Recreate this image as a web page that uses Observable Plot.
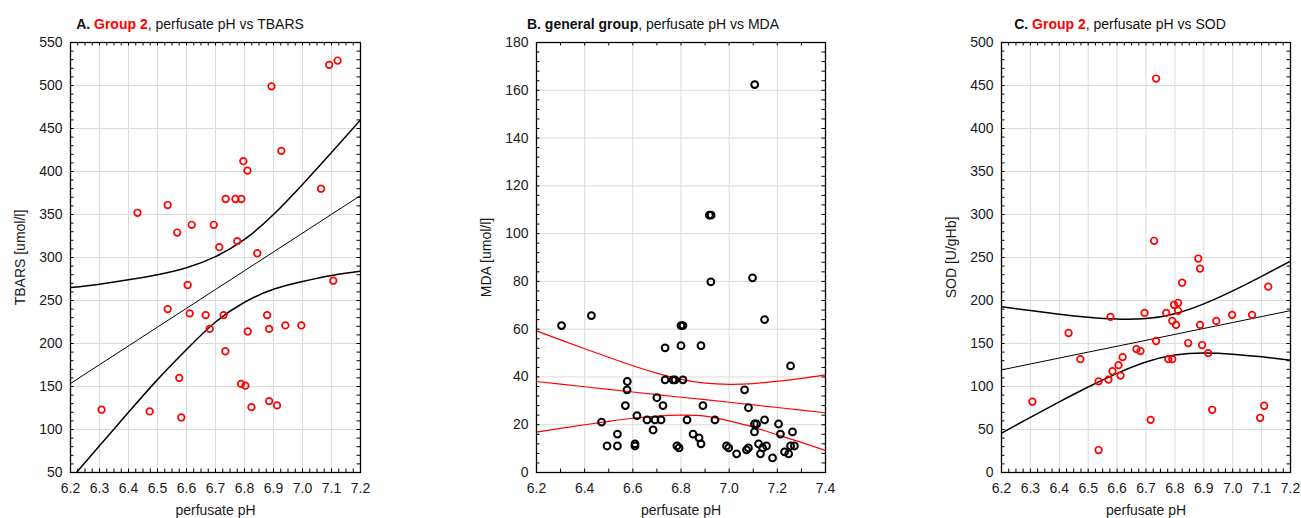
<!DOCTYPE html>
<html><head><meta charset="utf-8">
<script src="https://cdn.jsdelivr.net/npm/d3@7"></script>
<script src="https://cdn.jsdelivr.net/npm/@observablehq/plot@0.6"></script>
<style>
body{margin:0;background:#fff;font-family:"Liberation Sans",Arial,sans-serif;}
#root{position:relative;width:1301px;height:518px;overflow:hidden;background:#fff;}
.title{position:absolute;top:16px;width:380px;text-align:center;font-size:14px;line-height:17px;color:#111;white-space:nowrap;}
.red{color:#ff0000}
.panel{position:absolute;top:33px;}
.panel svg{overflow:visible;display:block}
</style></head><body><div id="root"></div>
<script>
// ---------- Panel A: Group 2, perfusate pH vs TBARS ----------
const phA = [6.431,6.535,6.568,6.618,6.694,6.713,6.735,6.769,6.789,6.775,6.796,6.810,6.844,6.893,6.927,7.064,7.092,7.121,
             6.604,6.535,6.611,6.666,6.728,6.680,6.811,6.878,6.885,6.941,6.996,7.106,6.734,6.575,6.788,6.803,6.307,6.473,6.582,6.824,6.885,6.912];
const tbarsA = [352,361,329,338,338,312,368,368,368,319,412,401,305,499,424,380,524,529,
                268,240,235,233,233,217,214,233,217,221,221,273,191,160,153,151,123,121,114,126,133,128];
const bandXA = [6.2,6.3,6.4,6.5,6.6,6.7,6.8,6.9,7.0,7.1,7.2];
const fitA   = [153.5,175.4,197.2,219.1,240.9,262.8,284.6,306.5,328.3,350.2,372];
const upperA = [265,269,274,280,288,301,321,350,385,422,460];
const lowerA = [42,81,120,158,193,225,248,263,272,279,284];
const xTicksA = [6.2,6.3,6.4,6.5,6.6,6.7,6.8,6.9,7.0,7.1,7.2];
const yTicksA = [50,100,150,200,250,300,350,400,450,500,550];

// ---------- Panel B: general group, perfusate pH vs MDA ----------
const phB = [6.304,6.428,6.470,6.493,6.536,6.536,6.569,6.577,6.576,6.609,6.609,6.617,6.659,6.684,6.692,6.700,6.717,6.725,
             6.734,6.734,6.767,6.775,6.783,6.792,6.800,6.800,6.808,6.808,6.825,6.850,6.875,6.883,6.883,6.891,6.924,6.941,
             6.989,6.998,7.031,7.064,7.072,7.080,7.080,7.097,7.105,7.105,7.114,7.122,7.130,7.139,7.147,7.147,7.155,7.180,
             7.205,7.213,7.230,7.247,7.255,7.255,7.263,7.271,7.106,6.918,6.925];
const mdaB = [61.5,65.7,21.1,11.1,16.1,11.1,28.0,38.1,34.6,12.0,11.1,23.8,22.0,17.8,22.0,31.3,22.0,28.0,
              52.2,38.8,38.8,38.8,11.1,10.3,53.1,61.5,61.5,38.8,22.0,16.1,14.5,12.0,53.1,28.0,79.8,22.0,
              11.1,10.3,7.8,34.6,9.5,10.3,27.1,81.5,17.0,20.3,20.3,12.0,7.8,10.3,22.0,64.0,11.1,6.1,
              20.3,16.1,8.6,7.8,11.1,44.6,17.0,11.1,162.4,107.7,107.7];
const bandXB = [6.2,6.3,6.4,6.5,6.6,6.7,6.8,6.9,7.0,7.1,7.2,7.3,7.4];
const fitB   = [38.1,37.0,35.9,34.8,33.7,32.6,31.5,30.5,29.4,28.3,27.2,26.1,25.0];
const upperB = [59.3,55.5,51.8,48.2,44.7,41.6,39.0,37.4,36.9,37.2,38.2,39.4,40.9];
const lowerB = [16.9,18.5,20.0,21.4,22.7,23.6,24.0,23.6,21.6,19.0,15.8,12.6,9.2];
const xTicksB = [6.2,6.4,6.6,6.8,7.0,7.2,7.4];
const yTicksB = [0,20,40,60,80,100,120,140,160,180];

// ---------- Panel C: Group 2, perfusate pH vs SOD ----------
const phC = [6.307,6.432,6.473,6.536,6.536,6.570,6.577,6.584,6.605,6.612,6.619,6.667,6.681,6.695,6.716,6.735,6.770,6.777,
             6.791,6.791,6.797,6.804,6.811,6.811,6.825,6.846,6.881,6.887,6.887,6.894,6.915,6.929,6.943,6.998,7.067,7.095,
             7.109,7.123,6.735,6.728];
const sodC = [82.3,162.2,131.8,106.0,26.1,108.0,181.0,117.8,124.8,112.7,134.2,143.5,141.2,185.6,61.2,152.9,185.6,131.8,
              131.8,176.3,195.0,171.6,197.3,188.0,220.7,150.5,248.8,237.1,171.6,148.2,138.8,72.9,176.3,183.3,183.3,63.6,
              77.6,216.1,458.1,269.4];
const bandXC = [6.2,6.3,6.4,6.5,6.6,6.7,6.8,6.9,7.0,7.1,7.2];
const fitC   = [119.3,126.2,133.1,140.0,146.8,153.7,160.6,167.5,174.4,181.3,188.2];
const upperC = [192.8,188.3,184.1,180.6,178.4,179.0,184.7,196.1,211.2,228.1,245.8];
const lowerC = [45.8,64.1,82.1,99.4,115.2,128.4,136.5,138.9,137.6,134.5,130.6];
const xTicksC = [6.2,6.3,6.4,6.5,6.6,6.7,6.8,6.9,7.0,7.1,7.2];
const yTicksC = [0,50,100,150,200,250,300,350,400,450,500];

const FONT = '"Liberation Sans", Arial, sans-serif';
const H = 430;

function panel(o) {
  const W = o.plotWidth;
  const pts = o.xs.map((x, i) => ({x, y: o.ys[i]}));
  const rows = o.bandX.map((x, i) => ({x, fit: o.fit[i], upper: o.upper[i], lower: o.lower[i]}));
  const tk = 3.5;
  return Plot.plot({
    width: 70 + W + o.marginRight, height: 485,
    marginLeft: 70, marginRight: o.marginRight, marginTop: 9, marginBottom: 46,
    style: {fontFamily: FONT, fontSize: "14px", color: "#1a1a1a", background: "transparent", overflow: "visible"},
    x: {domain: o.xDomain},
    y: {domain: o.yDomain},
    marks: [
      Plot.gridX(o.xTicks, {stroke: "#dadada", strokeOpacity: 1, strokeWidth: 1}),
      Plot.gridY(o.yTicks, {stroke: "#dadada", strokeOpacity: 1, strokeWidth: 1}),
      Plot.tickX(o.xMinor, {x: d => d, insetTop: H - tk, stroke: "#000"}),
      Plot.tickX(o.xMinor, {x: d => d, insetBottom: H - tk, stroke: "#000"}),
      Plot.tickY(o.yMinor, {y: d => d, insetRight: W - tk, stroke: "#000"}),
      Plot.tickY(o.yMinor, {y: d => d, insetLeft: W - tk, stroke: "#000"}),
      Plot.axisX(o.xTicks, {tickSize: 0, tickPadding: 11, tickFormat: d3.format(".1f"),
        label: "perfusate pH", labelAnchor: "center", labelArrow: "none", labelOffset: 42}),
      Plot.axisY(o.yTicks, {tickSize: 0, tickPadding: 8,
        label: o.yLabel, labelAnchor: "center", labelArrow: "none", labelOffset: 55}),
      Plot.line(rows, {x: "x", y: "upper", curve: "natural", stroke: o.lineColor, strokeWidth: o.bandWidth, clip: true}),
      Plot.line(rows, {x: "x", y: "lower", curve: "natural", stroke: o.lineColor, strokeWidth: o.bandWidth, clip: true}),
      Plot.line(rows, {x: "x", y: "fit", stroke: o.lineColor, strokeWidth: o.fitWidth, clip: true}),
      Plot.dot(pts, {x: "x", y: "y", r: o.r, stroke: o.color, strokeWidth: o.dotWidth, fill: "none"}),
      Plot.frame({stroke: "#000", strokeWidth: 1.3})
    ]
  });
}

const root = document.getElementById("root");
function addTitle(html, left) {
  const d = document.createElement("div");
  d.className = "title";
  d.style.left = left + "px";
  d.innerHTML = html;
  root.appendChild(d);
}
function addPanel(svg, left) {
  const d = document.createElement("div");
  d.className = "panel";
  d.style.left = left + "px";
  d.appendChild(svg);
  root.appendChild(d);
}

addTitle('<b>A. <span class="red">Group 2</span></b>, perfusate pH vs TBARS', 0);
addTitle('<b>B. general group</b>, perfusate pH vs MDA', 463);
addTitle('<b>C. <span class="red">Group 2</span></b>, perfusate pH vs SOD', 930);

addPanel(panel({
  xs: phA, ys: tbarsA, color: "#ff0000", r: 3.3, dotWidth: 1.7,
  xDomain: [6.2, 7.2], yDomain: [50, 550], xTicks: xTicksA, yTicks: yTicksA,
  xMinor: d3.range(0, 41).map(i => 6.2 + i * 0.025), yMinor: d3.range(50, 551, 10),
  bandX: bandXA, fit: fitA, upper: upperA, lower: lowerA, lineColor: "#000", fitWidth: 1, bandWidth: 1.5,
  yLabel: "TBARS [umol/l]", plotWidth: 290, marginRight: 15
}), 0);

addPanel(panel({
  xs: phB, ys: mdaB, color: "#000", r: 3.4, dotWidth: 2,
  xDomain: [6.2, 7.4], yDomain: [0, 180], xTicks: xTicksB, yTicks: yTicksB,
  xMinor: d3.range(0, 13).map(i => 6.2 + i * 0.1), yMinor: d3.range(0, 181, 4),
  bandX: bandXB, fit: fitB, upper: upperB, lower: lowerB, lineColor: "#ff0000", fitWidth: 1.1, bandWidth: 1.2,
  yLabel: "MDA [umol/l]", plotWidth: 289, marginRight: 15
}), 466);

addPanel(panel({
  xs: phC, ys: sodC, color: "#ff0000", r: 3.3, dotWidth: 1.7,
  xDomain: [6.2, 7.2], yDomain: [0, 500], xTicks: xTicksC, yTicks: yTicksC,
  xMinor: d3.range(0, 41).map(i => 6.2 + i * 0.025), yMinor: d3.range(0, 501, 10),
  bandX: bandXC, fit: fitC, upper: upperC, lower: lowerC, lineColor: "#000", fitWidth: 1, bandWidth: 1.5,
  yLabel: "SOD [U/gHb]", plotWidth: 289, marginRight: 11
}), 931);
</script>
</body></html>
